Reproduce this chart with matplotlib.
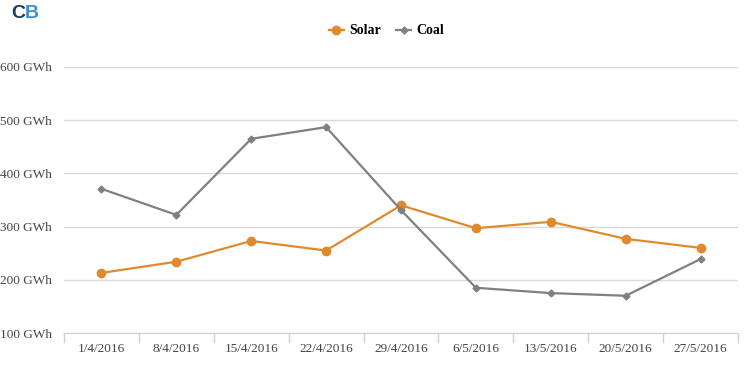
import matplotlib.pyplot as plt

dates = ['1/4/2016', '8/4/2016', '15/4/2016', '22/4/2016', '29/4/2016',
         '6/5/2016', '13/5/2016', '20/5/2016', '27/5/2016']
solar = [213, 234, 273, 255, 340, 297, 309, 277, 260]
coal = [371, 322, 465, 487, 331, 185, 175, 170, 239]
yticks = [100, 200, 300, 400, 500, 600]

plt.rcParams['font.family'] = ['Liberation Serif']

fig = plt.figure(figsize=(7.5, 3.68), dpi=100)
ax = fig.add_axes([64 / 750, 1 - 333 / 368, 674 / 750, 266 / 368])

x = list(range(len(dates)))
ax.plot(x, solar, color='#e08b2b', marker='o', markersize=6, linewidth=1.6, label='Solar')
ax.plot(x, coal, color='#808080', marker='D', markersize=3.5, linewidth=1.6, label='Coal')

ax.set_xlim(-0.5, len(dates) - 0.5)
ax.set_ylim(100, 600)
ax.set_yticks(yticks)
ax.set_yticklabels([f'{v} GWh' for v in yticks], fontsize=9.5, color='#444444')
ax.yaxis.grid(True, color='#d9d9d9', linewidth=1)
ax.set_axisbelow(True)
ax.tick_params(axis='y', length=0, pad=8.5)

ax.set_xticks(x)
ax.set_xticklabels(dates, fontsize=9.5, color='#444444')
ax.tick_params(axis='x', length=0, pad=7)
ax.set_xticks([i - 0.5 for i in range(len(dates) + 1)], minor=True)
ax.tick_params(axis='x', which='minor', length=7, color='#c5d3dc', width=1)

for side in ['top', 'right', 'left']:
    ax.spines[side].set_visible(False)
ax.spines['bottom'].set_color('#c5d3dc')

leg = fig.legend(loc='center', bbox_to_anchor=(0.515, 1 - 31 / 368), ncol=2, frameon=False,
                 prop={'weight': 'bold', 'size': 10}, handlelength=1.1, columnspacing=1.1,
                 handletextpad=0.35)

fig.text(11 / 750, 1 - 14 / 368, 'C', fontsize=14, fontweight='bold', color='#1d3a5f',
         family='Liberation Sans', va='center', ha='left')
fig.text(25 / 750, 1 - 14 / 368, 'B', fontsize=14, fontweight='bold', color='#3d8fd1',
         family='Liberation Sans', va='center', ha='left')

fig.savefig('out.png', dpi=100)
